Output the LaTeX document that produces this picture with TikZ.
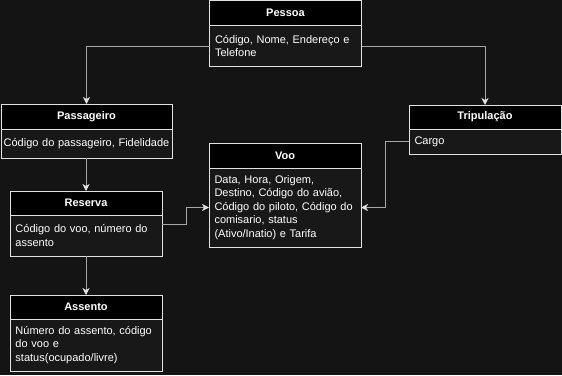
\documentclass[tikz,border=0pt]{standalone}
\usepackage{fontspec}
\setmainfont{Liberation Sans}
\usetikzlibrary{arrows.meta, positioning, calc}

\definecolor{canvas}{HTML}{141414}
\definecolor{cellbg}{HTML}{181818}
\definecolor{edge}{HTML}{E2E2E2}
\definecolor{wire}{HTML}{A6A6A6}

\tikzset{
  head/.style={rectangle, draw=edge, fill=black, text=white,
               font=\fontsize{11}{13}\selectfont\bfseries,
               minimum width=152pt, minimum height=24pt,
               inner sep=0pt, outer sep=0pt, anchor=north west},
  cell/.style={rectangle, draw=edge, fill=cellbg, text=white,
               font=\fontsize{11}{13.6}\selectfont,
               text width=141pt, inner xsep=5.5pt, inner ysep=0pt,
               outer sep=0pt, align=left},
  link/.style={-{Stealth[length=7pt, width=7pt, inset=2pt, color=edge]},
               line width=1pt, draw=wire},
}

\begin{document}
\begin{tikzpicture}[x=1pt, y=-1pt, line width=1pt]

  \useasboundingbox[fill=canvas] (0,0) rectangle (562,375);

  % classes: title bar + attribute cell
  \node[head, minimum height=25pt] (pessoaH) at (209.5,0.5) {Pessoa};
  \node[cell, minimum height=41pt, below=0pt of pessoaH] (pessoa)
    {Código, Nome, Endereço e\\Telefone};

  \node[head, minimum width=171pt, minimum height=25pt] (passageiroH) at (1,104) {Passageiro};
  \node[cell, text width=171pt, inner xsep=0pt, align=center,
        minimum height=29pt, below=0pt of passageiroH] (passageiro)
    {Código do passageiro, Fidelidade};

  \node[head] (tripulacaoH) at (409,105) {Tripulação};
  \node[cell, minimum height=25pt, below=0pt of tripulacaoH] (tripulacao) {Cargo};

  \node[head, minimum height=25pt] (vooH) at (209,143) {Voo};
  \node[cell, minimum height=79pt, below=0pt of vooH] (voo)
    {Data, Hora, Origem,\\Destino, Código do avião,\\Código do piloto, Código do\\comisario, status\\(Ativo/Inatio) e Tarifa};

  \node[head] (reservaH) at (10,191) {Reserva};
  \node[cell, minimum height=41pt, below=0pt of reservaH] (reserva)
    {Código do voo, número do\\assento};

  \node[head] (assentoH) at (10,295) {Assento};
  \node[cell, minimum height=52pt, below=0pt of assentoH] (assento)
    {Número do assento, código\\do voo e\\status(ocupado/livre)};

  % connectors
  \draw[link] (pessoa.west) -| (passageiroH.north);
  \draw[link] (pessoa.east) -| (tripulacaoH.north);
  \draw[link] (reservaH.north |- passageiro.south) -- (reservaH.north);
  \draw[link] (reserva.south) -- (assentoH.north);
  \draw[link] ([yshift=-9pt]reserva.north east) -- ++(24,0) |- (voo.west);
  \draw[link] (tripulacao.west) -- ++(-24,0) |- (voo.east);

\end{tikzpicture}
\end{document}
